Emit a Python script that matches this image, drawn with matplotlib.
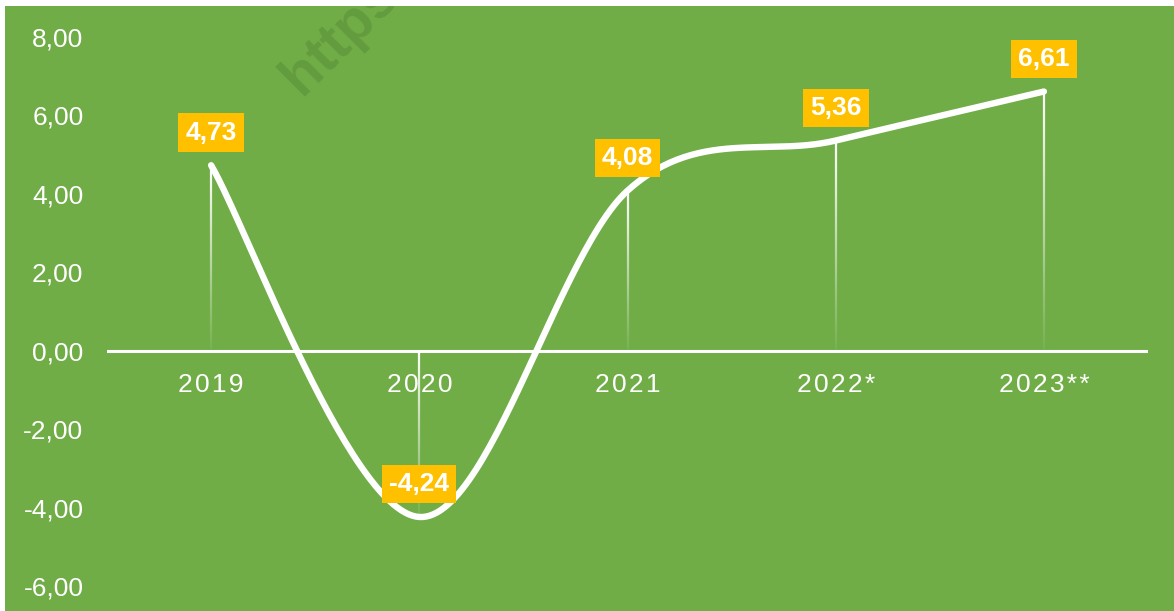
import numpy as np
import matplotlib
matplotlib.use("Agg")
import matplotlib.pyplot as plt
from matplotlib.patches import Rectangle
from matplotlib.collections import LineCollection

# ---- data ----
categories = ["2019", "2020", "2021", "2022*", "2023**"]
values = [4.73, -4.24, 4.08, 5.36, 6.61]
value_labels = ["4,73", "-4,24", "4,08", "5,36", "6,61"]
yticks = [-6, -4, -2, 0, 2, 4, 6, 8]
ytick_labels = ["-6,00", "-4,00", "-2,00", "0,00", "2,00", "4,00", "6,00", "8,00"]

GREEN = "#70AD47"
GOLD = "#FFC000"

plt.rcParams['font.family'] = ['Liberation Sans', 'DejaVu Sans']

W, H = 1174, 611
fig = plt.figure(figsize=(W / 100, H / 100), dpi=100)
fig.patch.set_facecolor("white")
bg = Rectangle((5 / W, 0), 1 - 5 / W, 1 - 6 / H, transform=fig.transFigure,
               facecolor=GREEN, edgecolor="none", zorder=-10)
fig.patches.append(bg)

# watermark
wm = fig.text(302 / W, 1 - 97 / H, "https://", rotation=45, rotation_mode="anchor",
              ha="left", va="baseline", fontsize=41, fontweight="bold",
              color="#3d6b25", alpha=0.25, zorder=-5)
wm.set_clip_path(bg)

ax = fig.add_axes([107 / W, 25 / H, (1148 - 107) / W, (586 - 37) / H])
ax.set_facecolor("none")
ax.set_xlim(-0.5, len(categories) - 0.5)
ax.set_ylim(-6, 8)
for s in ax.spines.values():
    s.set_visible(False)
ax.set_xticks([])
ax.set_yticks(yticks)
ax.set_yticklabels(ytick_labels)
ax.tick_params(axis="y", length=0, pad=17, labelsize=19, labelcolor="white")

# zero line
ax.axhline(0, color="white", lw=2.2, zorder=2)

x = np.arange(len(values), dtype=float)
y = np.array(values, dtype=float)

# drop lines with gradient (white at top, fading toward bottom)
N = 80
for xi, yi in zip(x, y):
    top, bot = max(yi, 0), min(yi, 0)
    ys = np.linspace(top, bot, N + 1)
    segs = [[(xi, ys[k]), (xi, ys[k + 1])] for k in range(N)]
    alphas = np.linspace(1.0, 0.05, N)
    cols = [(1, 1, 1, a) for a in alphas]
    ax.add_collection(LineCollection(segs, colors=cols, linewidths=1.6, zorder=3))

# smoothed line (Excel-like Catmull-Rom Bezier)
px, py = [], []
n = len(x)
for i in range(n - 1):
    p0 = np.array([x[max(i - 1, 0)], y[max(i - 1, 0)]])
    p1 = np.array([x[i], y[i]])
    p2 = np.array([x[i + 1], y[i + 1]])
    p3 = np.array([x[min(i + 2, n - 1)], y[min(i + 2, n - 1)]])
    c1 = p1 + (p2 - p0) / 6
    c2 = p2 - (p3 - p1) / 6
    t = np.linspace(0, 1, 60)[:, None]
    b = ((1 - t) ** 3) * p1 + 3 * ((1 - t) ** 2) * t * c1 + 3 * (1 - t) * t ** 2 * c2 + t ** 3 * p2
    px.extend(b[:, 0]); py.extend(b[:, 1])
ax.plot(px, py, color="white", lw=4.6, solid_capstyle="round", zorder=4)

# value labels
for xi, yi, lab in zip(x, y, value_labels):
    ax.annotate(lab, (xi, yi), xytext=(0, 23.5), textcoords="offset points",
                ha="center", va="center", fontsize=19, fontweight="bold", color="white",
                bbox=dict(boxstyle="square,pad=0.27", facecolor=GOLD, edgecolor="none"),
                zorder=6)

# category labels (letter-spaced)
for xi, cat in zip(x, categories):
    ax.annotate("\u200a".join(cat), (xi, 0), xytext=(0, -24.5), textcoords="offset points",
                ha="center", va="center", fontsize=19, color="white", zorder=5)

fig.savefig("out.png", dpi=100, facecolor=fig.get_facecolor())
